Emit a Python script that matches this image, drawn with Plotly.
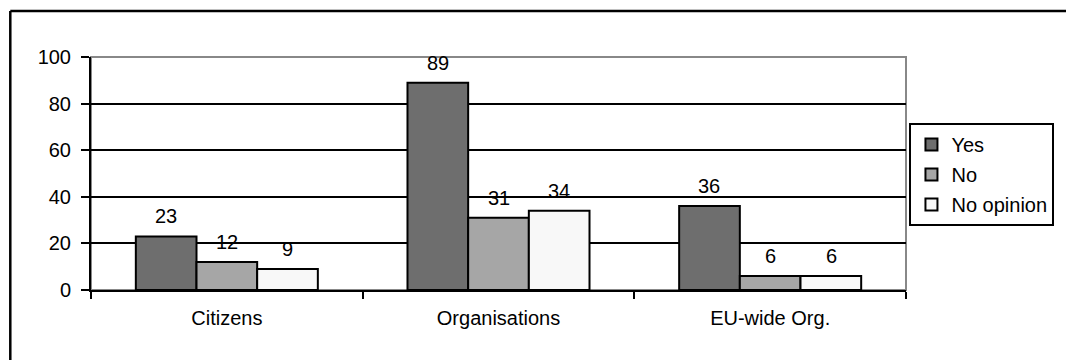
import plotly.graph_objects as go

categories = ["Citizens", "Organisations", "EU-wide Org."]
series_names = ["Yes", "No", "No opinion"]
yes_values = [23, 89, 36]
no_values = [12, 31, 6]
noop_values = [9, 34, 6]
y_ticks = [0, 20, 40, 60, 80, 100]

series_values = [yes_values, no_values, noop_values]
colors = ["#6e6e6e", "#a6a6a6", "#f8f8f8"]

W, H = 1066, 360
L, R, T, B = 91, 157, 57, 70
plot_w = W - L - R
plot_h = H - T - B
bargap = 0.33
FONT = "Liberation Sans, Arial, sans-serif"
FS = 20

fig = go.Figure()
for name, vals, col in zip(series_names, series_values, colors):
    fig.add_trace(go.Bar(
        x=categories, y=vals, name=name, legendgroup=name,
        marker=dict(color=col, line=dict(color="#000000", width=2)),
    ))

bar_px = plot_w / len(categories) * (1 - bargap) / len(series_names)
annotations = []
for i, vals in enumerate(series_values):
    for c, v in zip(categories, vals):
        annotations.append(dict(
            x=c, y=v, xref="x", yref="y", text=str(v), showarrow=False,
            xshift=(i - 1) * bar_px, yshift=20, yanchor="middle",
            font=dict(family=FONT, size=FS, color="#000000"),
        ))

fx0 = (10 - L) / plot_w
fx1 = (W + 20 - L) / plot_w
fy1 = (plot_h + T - 11) / plot_h
fy0 = (plot_h + T - (H + 20)) / plot_h
shapes = [
    # plot area border (gray)
    dict(type="rect", xref="paper", yref="paper", x0=0, x1=1, y0=0, y1=1,
         line=dict(color="#888888", width=2), layer="below"),
    # outer chart frame (top and left edges visible)
    dict(type="line", xref="paper", yref="paper", x0=fx0, x1=fx1, y0=fy1, y1=fy1,
         line=dict(color="#000000", width=2.5), layer="below"),
    dict(type="line", xref="paper", yref="paper", x0=fx0, x1=fx0, y0=fy0, y1=fy1,
         line=dict(color="#000000", width=2.5), layer="below"),
]

fig.update_layout(
    width=W, height=H,
    margin=dict(l=L, r=R, t=T, b=B, pad=0),
    paper_bgcolor="white", plot_bgcolor="white",
    barmode="group", bargap=bargap, bargroupgap=0,
    font=dict(family=FONT, size=FS, color="#000000"),
    showlegend=True,
    legend=dict(
        x=(1058 - L) / plot_w, xanchor="right",
        y=(plot_h + T - 123) / plot_h, yanchor="top",
        bordercolor="#000000", borderwidth=2, bgcolor="white",
        font=dict(family=FONT, size=FS, color="#000000"),
        traceorder="grouped", tracegroupgap=1, itemwidth=30,
    ),
    xaxis=dict(
        showline=True, linecolor="#000000", linewidth=2,
        ticks="outside", ticklen=7, tickwidth=2, tickcolor="#000000",
        tickson="boundaries", ticklabelstandoff=9,
        showgrid=False, zeroline=False,
    ),
    yaxis=dict(
        range=[0, 100], tickvals=y_ticks,
        showline=True, linecolor="#000000", linewidth=2,
        ticks="outside", ticklen=8, tickwidth=2, tickcolor="#000000",
        ticklabelstandoff=6,
        showgrid=True, gridcolor="#000000", gridwidth=2, zeroline=False,
    ),
    annotations=annotations,
    shapes=shapes,
)

fig.write_html("out.html")
